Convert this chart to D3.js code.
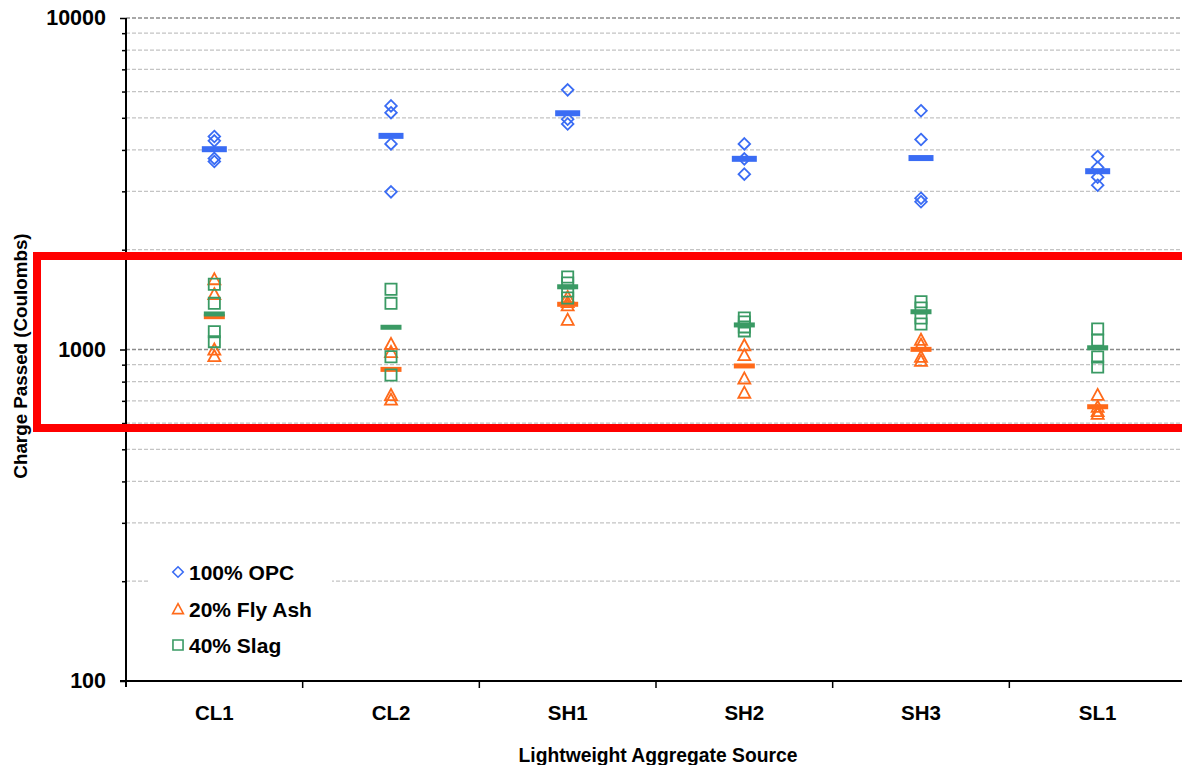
<!DOCTYPE html>
<html>
<head>
<meta charset="utf-8">
<script src="https://cdn.jsdelivr.net/npm/d3@7"></script>
<style>
  html, body { margin: 0; padding: 0; background: #fff; }
  svg { display: block; font-family: "Liberation Sans", Arial, sans-serif; }
</style>
</head>
<body>
<div id="chartContainer"></div>
<script>
// categories and read-off values (Coulombs)
const categories = ["CL1", "CL2", "SH1", "SH2", "SH3", "SL1"];

const opcValues = [
  [4390, 4260, 3770, 3690],
  [5430, 5180, 4170, 2990],
  [6070, 4950, 4790],
  [4170, 3760, 3380],
  [5250, 4300, 2860, 2790],
  [3820, 3540, 3310, 3130]
];
const opcMean = [4020, 4410, 5160, 3760, 3780, 3450];

const flyAshValues = [
  [1630, 1470, 1000, 956],
  [1040, 983, 729, 706],
  [1440, 1390, 1360, 1230],
  [1030, 962, 818, 741],
  [1070, 1035, 951, 925],
  [730, 672, 652, 640]
];
const flyAshMean = [1256, 871, 1369, 892, 1001, 672];

const slagValues = [
  [1574, 1378, 1132, 1056],
  [1519, 1378, 951, 838],
  [1654, 1587, 1501, 1430],
  [1245, 1211, 1170, 1138],
  [1394, 1334, 1245, 1194],
  [1153, 1068, 949, 886]
];
const slagMean = [1280, 1167, 1546, 1186, 1300, 1012];

const majorTicks = [100, 1000, 10000];
const minorTicks = [200, 300, 400, 500, 600, 700, 800, 900,
                    2000, 3000, 4000, 5000, 6000, 7000, 8000, 9000];

const seriesNames = ["100% OPC", "20% Fly Ash", "40% Slag"];

document.addEventListener('DOMContentLoaded', () => {
  const width = 1182, height = 765;
  const left = 126, top = 18, bottom = 681, right = 1186;

  const svg = d3.select("#chartContainer")
    .append("svg")
    .attr("width", width)
    .attr("height", height);

  const x = d3.scaleBand().domain(categories).range([left, right]);
  const y = d3.scaleLog().domain([100, 10000]).range([bottom, top]);

  // gridlines
  svg.append("g").selectAll("line")
    .data(minorTicks.concat([1000, 10000]))
    .enter().append("line")
    .attr("x1", left).attr("x2", width)
    .attr("y1", d => y(d)).attr("y2", d => y(d))
    .attr("stroke", d => majorTicks.includes(d) ? "#8c8c8c" : "#c4c4c4")
    .attr("stroke-width", d => majorTicks.includes(d) ? 1.6 : 1.3)
    .attr("stroke-dasharray", "4,2");

  // y axis
  const yAxis = svg.append("g")
    .attr("transform", `translate(${left},0)`)
    .call(d3.axisLeft(y)
      .tickValues(majorTicks.concat(minorTicks))
      .tickSize(6)
      .tickPadding(14)
      .tickFormat(d => majorTicks.includes(d) ? d : ""));
  yAxis.select(".domain").attr("stroke", "#000").attr("stroke-width", 2)
    .attr("d", `M0,${top}V${bottom + 6}`);
  yAxis.selectAll(".tick line")
    .attr("stroke", "#000").attr("stroke-width", 1.5)
    .attr("x2", d => majorTicks.includes(d) ? -6 : -4);
  yAxis.selectAll(".tick text")
    .attr("fill", "#000")
    .style("font-size", "21.5px").style("font-weight", "bold");

  // x axis
  const xAxis = svg.append("g")
    .attr("transform", `translate(0,${bottom})`)
    .call(d3.axisBottom(x).tickSize(0).tickPadding(24));
  xAxis.select(".domain").attr("stroke", "#000").attr("stroke-width", 2)
    .attr("d", `M${left - 6},0H${width}`);
  xAxis.selectAll(".tick text")
    .attr("fill", "#000")
    .style("font-size", "20.5px").style("font-weight", "bold");
  xAxis.selectAll(".boundary")
    .data(categories.slice(1))
    .enter().append("line")
    .attr("x1", d => x(d)).attr("x2", d => x(d))
    .attr("y1", 0).attr("y2", 7)
    .attr("stroke", "#000").attr("stroke-width", 1.5);

  // axis titles
  svg.append("text")
    .attr("x", (left + right) / 2 + 2).attr("y", 762)
    .attr("text-anchor", "middle")
    .style("font-size", "19.3px").style("font-weight", "bold")
    .text("Lightweight Aggregate Source");

  svg.append("text")
    .attr("transform", "translate(27,356) rotate(-90)")
    .attr("text-anchor", "middle")
    .style("font-size", "18.8px").style("font-weight", "bold")
    .text("Charge Passed (Coulombs)");

  // marker shapes
  const diamond = s => `M0,${-s}L${s},0L0,${s}L${-s},0Z`;
  const triangle = s => `M0,${-s}L${s},${s * 0.85}L${-s},${s * 0.85}Z`;
  const square = s => `M${-s},${-s}H${s}V${s}H${-s}Z`;

  const series = [
    { values: opcValues, mean: opcMean, color: "#3a6cf4", shape: diamond, size: 5.8, barW: 25, barH: 6 },
    { values: flyAshValues, mean: flyAshMean, color: "#ff6a1a", shape: triangle, size: 6, barW: 21, barH: 5 },
    { values: slagValues, mean: slagMean, color: "#3a9a64", shape: square, size: 5.6, barW: 21, barH: 5 }
  ];

  const cx = c => x(c) + x.bandwidth() / 2;

  series.forEach(s => {
    const pts = [];
    categories.forEach((c, i) => s.values[i].forEach(v => pts.push({ c, v })));

    svg.append("g").selectAll("path")
      .data(pts)
      .enter().append("path")
      .attr("d", s.shape(s.size))
      .attr("transform", d => `translate(${cx(d.c)},${y(d.v)})`)
      .attr("fill", "none")
      .attr("stroke", s.color)
      .attr("stroke-width", 1.8);

    svg.append("g").selectAll("rect")
      .data(categories.map((c, i) => ({ c, v: s.mean[i] })))
      .enter().append("rect")
      .attr("x", d => cx(d.c) - s.barW / 2)
      .attr("y", d => y(d.v) - s.barH / 2)
      .attr("width", s.barW)
      .attr("height", s.barH)
      .attr("fill", s.color);
  });

  // legend
  const legend = svg.append("g");
  legend.append("rect")
    .attr("x", 150).attr("y", 545).attr("width", 182).attr("height", 122)
    .attr("fill", "#fff");
  const legY = [572, 609, 645];
  series.forEach((s, i) => {
    legend.append("path")
      .attr("d", s.shape(s.size * 0.9))
      .attr("transform", `translate(178,${legY[i]})`)
      .attr("fill", "none")
      .attr("stroke", s.color)
      .attr("stroke-width", 1.6);
    legend.append("text")
      .attr("x", 189).attr("y", legY[i] + 7.5)
      .style("font-size", "21px").style("font-weight", "bold")
      .text(seriesNames[i]);
  });

  // red highlight box
  svg.append("rect")
    .attr("x", 37).attr("y", 256)
    .attr("width", 1160).attr("height", 172)
    .attr("fill", "none")
    .attr("stroke", "#ff0000")
    .attr("stroke-width", 8);
});
</script>
</body>
</html>
